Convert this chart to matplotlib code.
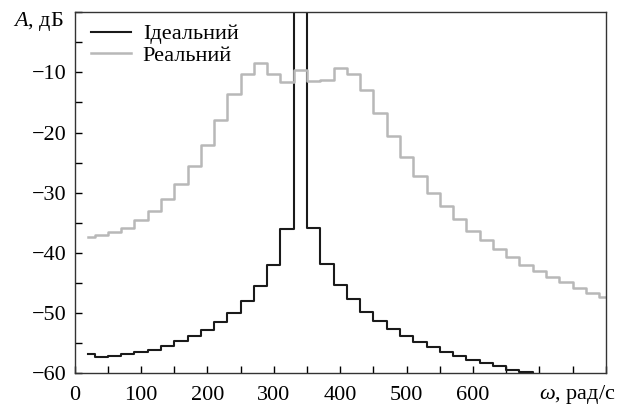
import numpy as np
import matplotlib
matplotlib.use('Agg')
import matplotlib.pyplot as plt

plt.rcParams['font.family'] = ['Liberation Serif', 'DejaVu Serif']
plt.rcParams['mathtext.fontset'] = 'custom'
plt.rcParams['mathtext.rm'] = 'Liberation Serif'
plt.rcParams['mathtext.it'] = 'Liberation Serif:italic'

# frequency grid, rad/s
w_ideal = [20, 40, 60, 80, 100, 120, 140, 160, 180, 200, 220, 240, 260, 280, 300,
           320, 340, 360, 380, 400, 420, 440, 460, 480, 500, 520, 540, 560, 580,
           600, 620, 640, 660, 680, 700]
a_ideal = [-56.9, -57.3, -57.1, -56.9, -56.5, -56.1, -55.5, -54.7, -53.8, -52.8,
           -51.5, -50.0, -48.1, -45.6, -42.1, -36.1, 5.0, -35.8, -41.9, -45.4,
           -47.7, -49.9, -51.3, -52.6, -53.8, -54.8, -55.6, -56.5, -57.1, -57.8,
           -58.4, -58.9, -59.5, -59.9, -60.5]

w_real = [20, 40, 60, 80, 100, 120, 140, 160, 180, 200, 220, 240, 260, 280, 300,
          320, 340, 360, 380, 400, 420, 440, 460, 480, 500, 520, 540, 560, 580,
          600, 620, 640, 660, 680, 700, 720, 740, 760, 780, 800]
a_real = [-37.3, -37.1, -36.6, -35.9, -34.6, -33.0, -31.0, -28.6, -25.6, -22.0,
          -17.9, -13.6, -10.2, -8.5, -10.3, -11.6, -9.6, -11.5, -11.2, -9.2,
          -10.2, -13.0, -16.7, -20.5, -24.1, -27.3, -30.0, -32.3, -34.4, -36.3,
          -37.9, -39.4, -40.7, -42.0, -43.0, -44.0, -44.9, -45.9, -46.7, -47.4]

xticks = [0, 100, 200, 300, 400, 500, 600, 700, 800]
xlabels = ['0', '100', '200', '300', '400', '500', '600', '', '']
yticks = [-60, -50, -40, -30, -20, -10, 0]
ylabels = ['\u221260', '\u221250', '\u221240', '\u221230', '\u221220', '\u221210', '']

fs = 16

fig = plt.figure(figsize=(6.31, 4.05), dpi=100)
ax = fig.add_axes([0.1184, 0.079, 0.8416, 0.8906])

ax.plot(w_ideal, a_ideal, drawstyle='steps-mid', color='#1a1a1a', lw=1.5, label='Ідеальний')
ax.plot(w_real, a_real, drawstyle='steps-mid', color='#b8b8b8', lw=1.8, label='Реальний')

ax.set_xlim(0, 800)
ax.set_ylim(-60, 0)
ax.set_xticks(xticks, xlabels)
ax.set_yticks(yticks, ylabels)
ax.set_xticks(np.arange(50, 800, 100), minor=True)
ax.set_yticks(np.arange(-55, 0, 10), minor=True)
ax.tick_params(which='both', direction='in', length=5, width=1, labelsize=fs,
               top=False, right=False)
ax.tick_params(axis='x', pad=9)
ax.tick_params(axis='y', pad=6)
for s in ax.spines.values():
    s.set_linewidth(1)
    s.set_color('#333333')

ax.text(-0.02, -1.5, '$A$, дБ', transform=ax.get_yaxis_transform(),
        ha='right', va='center', fontsize=fs)
ax.text(700, -0.06, '$\\omega$, рад/с', transform=ax.get_xaxis_transform(),
        ha='left', va='center', fontsize=fs)

ax.legend(loc='upper left', bbox_to_anchor=(0.03, 0.968), frameon=False, fontsize=fs,
          handlelength=1.8, handletextpad=0.55, labelspacing=0.05, borderpad=0,
          borderaxespad=0)

fig.savefig('out.png', dpi=100)
